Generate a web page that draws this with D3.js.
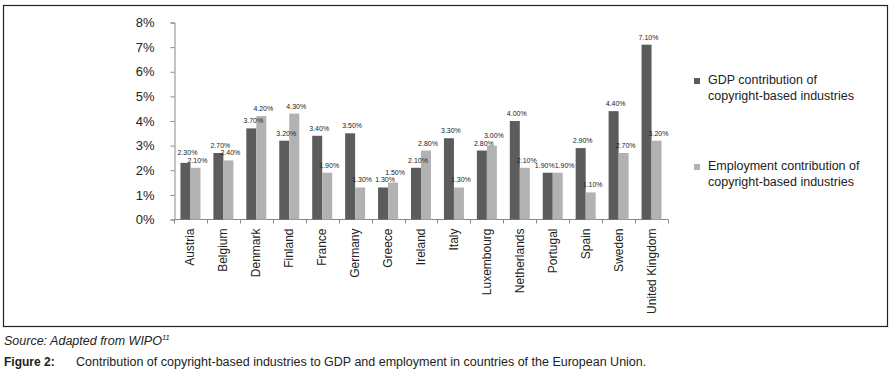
<!DOCTYPE html>
<html lang="en">
<head>
<meta charset="UTF-8">
<title>Copyright-based industries</title>
<script src="https://d3js.org/d3.v7.min.js"></script>
<style>
  body { margin: 0; background: #fff; }
  svg { display: block; font-family: "Liberation Sans", Arial, sans-serif; }
</style>
</head>
<body>
<div class="canvas"></div>
<script>
const countries = ['Austria', 'Belgium', 'Denmark', 'Finland', 'France', 'Germany', 'Greece', 'Ireland',
  'Italy', 'Luxembourg', 'Netherlands', 'Portugal', 'Spain', 'Sweden', 'United Kingdom']
const gdp = [2.3, 2.7, 3.7, 3.2, 3.4, 3.5, 1.3, 2.1, 3.3, 2.8, 4.0, 1.9, 2.9, 4.4, 7.1]
const employment = [2.1, 2.4, 4.2, 4.3, 1.9, 1.3, 1.5, 2.8, 1.3, 3.0, 2.1, 1.9, 1.1, 2.7, 3.2]
const seriesNames = ['GDP contribution of\ncopyright-based industries', 'Employment contribution of\ncopyright-based industries']
const yTicks = [0, 1, 2, 3, 4, 5, 6, 7, 8]

const width = 892
const height = 373
const colors = ['#5c5c5c', '#b2b2b2']

const svg = d3.select('.canvas')
  .append('svg')
  .attr('width', width)
  .attr('height', height)

// frame around chart
svg.append('rect')
  .attr('x', 3.5).attr('y', 5.5)
  .attr('width', 884).attr('height', 321)
  .attr('fill', 'none')
  .attr('stroke', '#222')
  .attr('stroke-width', 1.2)

const x = d3.scaleBand()
  .domain(countries)
  .range([174, 668])

const x1 = d3.scaleBand()
  .domain([0, 1])
  .range([0, 20])

const y = d3.scaleLinear()
  .domain([0, 8])
  .range([219.5, 22.5])

// axes
const yAxisG = svg.append('g')
  .attr('transform', 'translate(174.5,0)')
  .call(d3.axisLeft(y).tickValues(yTicks).tickSize(4).tickPadding(16).tickFormat(d => d + '%'))
yAxisG.select('.domain').attr('stroke', '#888')
yAxisG.selectAll('.tick line').attr('stroke', '#888')
yAxisG.selectAll('text').attr('font-size', 13).attr('fill', '#222')
  .attr('font-family', '"Liberation Sans", Arial, sans-serif')

const xAxisG = svg.append('g')
  .attr('transform', `translate(0,${y(0)})`)
xAxisG.append('line')
  .attr('x1', x.range()[0]).attr('x2', x.range()[1])
  .attr('stroke', '#888')
xAxisG.selectAll('.tk')
  .data(countries.concat(['end']))
  .enter().append('line')
  .attr('x1', (d, i) => Math.round(x.range()[0] + i * x.step()) + 0.5)
  .attr('x2', (d, i) => Math.round(x.range()[0] + i * x.step()) + 0.5)
  .attr('y1', 0).attr('y2', 4)
  .attr('stroke', '#888')
xAxisG.selectAll('.lbl')
  .data(countries)
  .enter().append('text')
  .attr('transform', d => `translate(${x(d) + x.bandwidth() / 2 + 4},9) rotate(-90)`)
  .attr('text-anchor', 'end')
  .attr('font-size', 12)
  .attr('fill', '#222')
  .text(d => d)

// bars
const series = [gdp, employment]
const labels = []
series.forEach((vals, s) => {
  countries.forEach((c, i) => {
    const bx = x(c) + (x.bandwidth() - 20) / 2 + x1(s)
    svg.append('rect')
      .attr('x', bx)
      .attr('y', y(vals[i]))
      .attr('width', x1.bandwidth())
      .attr('height', y(0) - y(vals[i]))
      .attr('fill', colors[s])
    labels.push({ cx: bx + x1.bandwidth() / 2 + 2, y: y(vals[i]) - 5, text: vals[i].toFixed(2) + '%' })
  })
})

// value labels; neighbours that collide get nudged apart
const labelG = svg.append('g')
const probe = labelG.append('text').attr('font-size', 7)
labels.forEach(l => { l.w = probe.text(l.text).node().getComputedTextLength() })
probe.remove()
labels.sort((a, b) => a.cx - b.cx)
for (let i = 1; i < labels.length; i++) {
  const a = labels[i - 1], b = labels[i]
  const overlap = (a.cx + a.w / 2) - (b.cx - b.w / 2)
  if (overlap <= 0) continue
  const dy = Math.abs(a.y - b.y)
  if (dy < 3) {
    a.cx -= overlap / 2
    b.cx += overlap / 2
  } else if (dy < 7.5) {
    const top = a.y < b.y ? a : b
    top.y -= 7.5 - dy
  }
}
labels.forEach(l => {
  labelG.append('text')
    .attr('x', l.cx).attr('y', l.y)
    .attr('text-anchor', 'middle')
    .attr('font-size', 7)
    .attr('fill', '#222')
    .text(l.text)
})

// legend
const legendY = [84, 170]
seriesNames.forEach((name, s) => {
  svg.append('rect')
    .attr('x', 694).attr('y', legendY[s] - 6)
    .attr('width', 6).attr('height', 6)
    .attr('fill', colors[s])
  const t = svg.append('text')
    .attr('x', 708).attr('y', legendY[s])
    .attr('font-size', 12.5)
    .attr('fill', '#222')
  name.split('\n').forEach((line, j) => {
    t.append('tspan').attr('x', 708).attr('dy', j ? 16 : 0).text(line)
  })
})

// captions
svg.append('text')
  .attr('x', 4).attr('y', 345)
  .attr('font-size', 12.5)
  .attr('font-style', 'italic')
  .attr('fill', '#222')
  .text('Source: Adapted from WIPO')
  .append('tspan')
  .attr('dy', -5).attr('font-size', 7.5)
  .text('11')

svg.append('text')
  .attr('x', 4).attr('y', 366)
  .attr('font-size', 12)
  .attr('font-weight', 'bold')
  .attr('fill', '#222')
  .text('Figure 2:')

svg.append('text')
  .attr('x', 76).attr('y', 366)
  .attr('font-size', 12.5)
  .attr('fill', '#222')
  .text('Contribution of copyright-based industries to GDP and employment in countries of the European Union.')
</script>
</body>
</html>
